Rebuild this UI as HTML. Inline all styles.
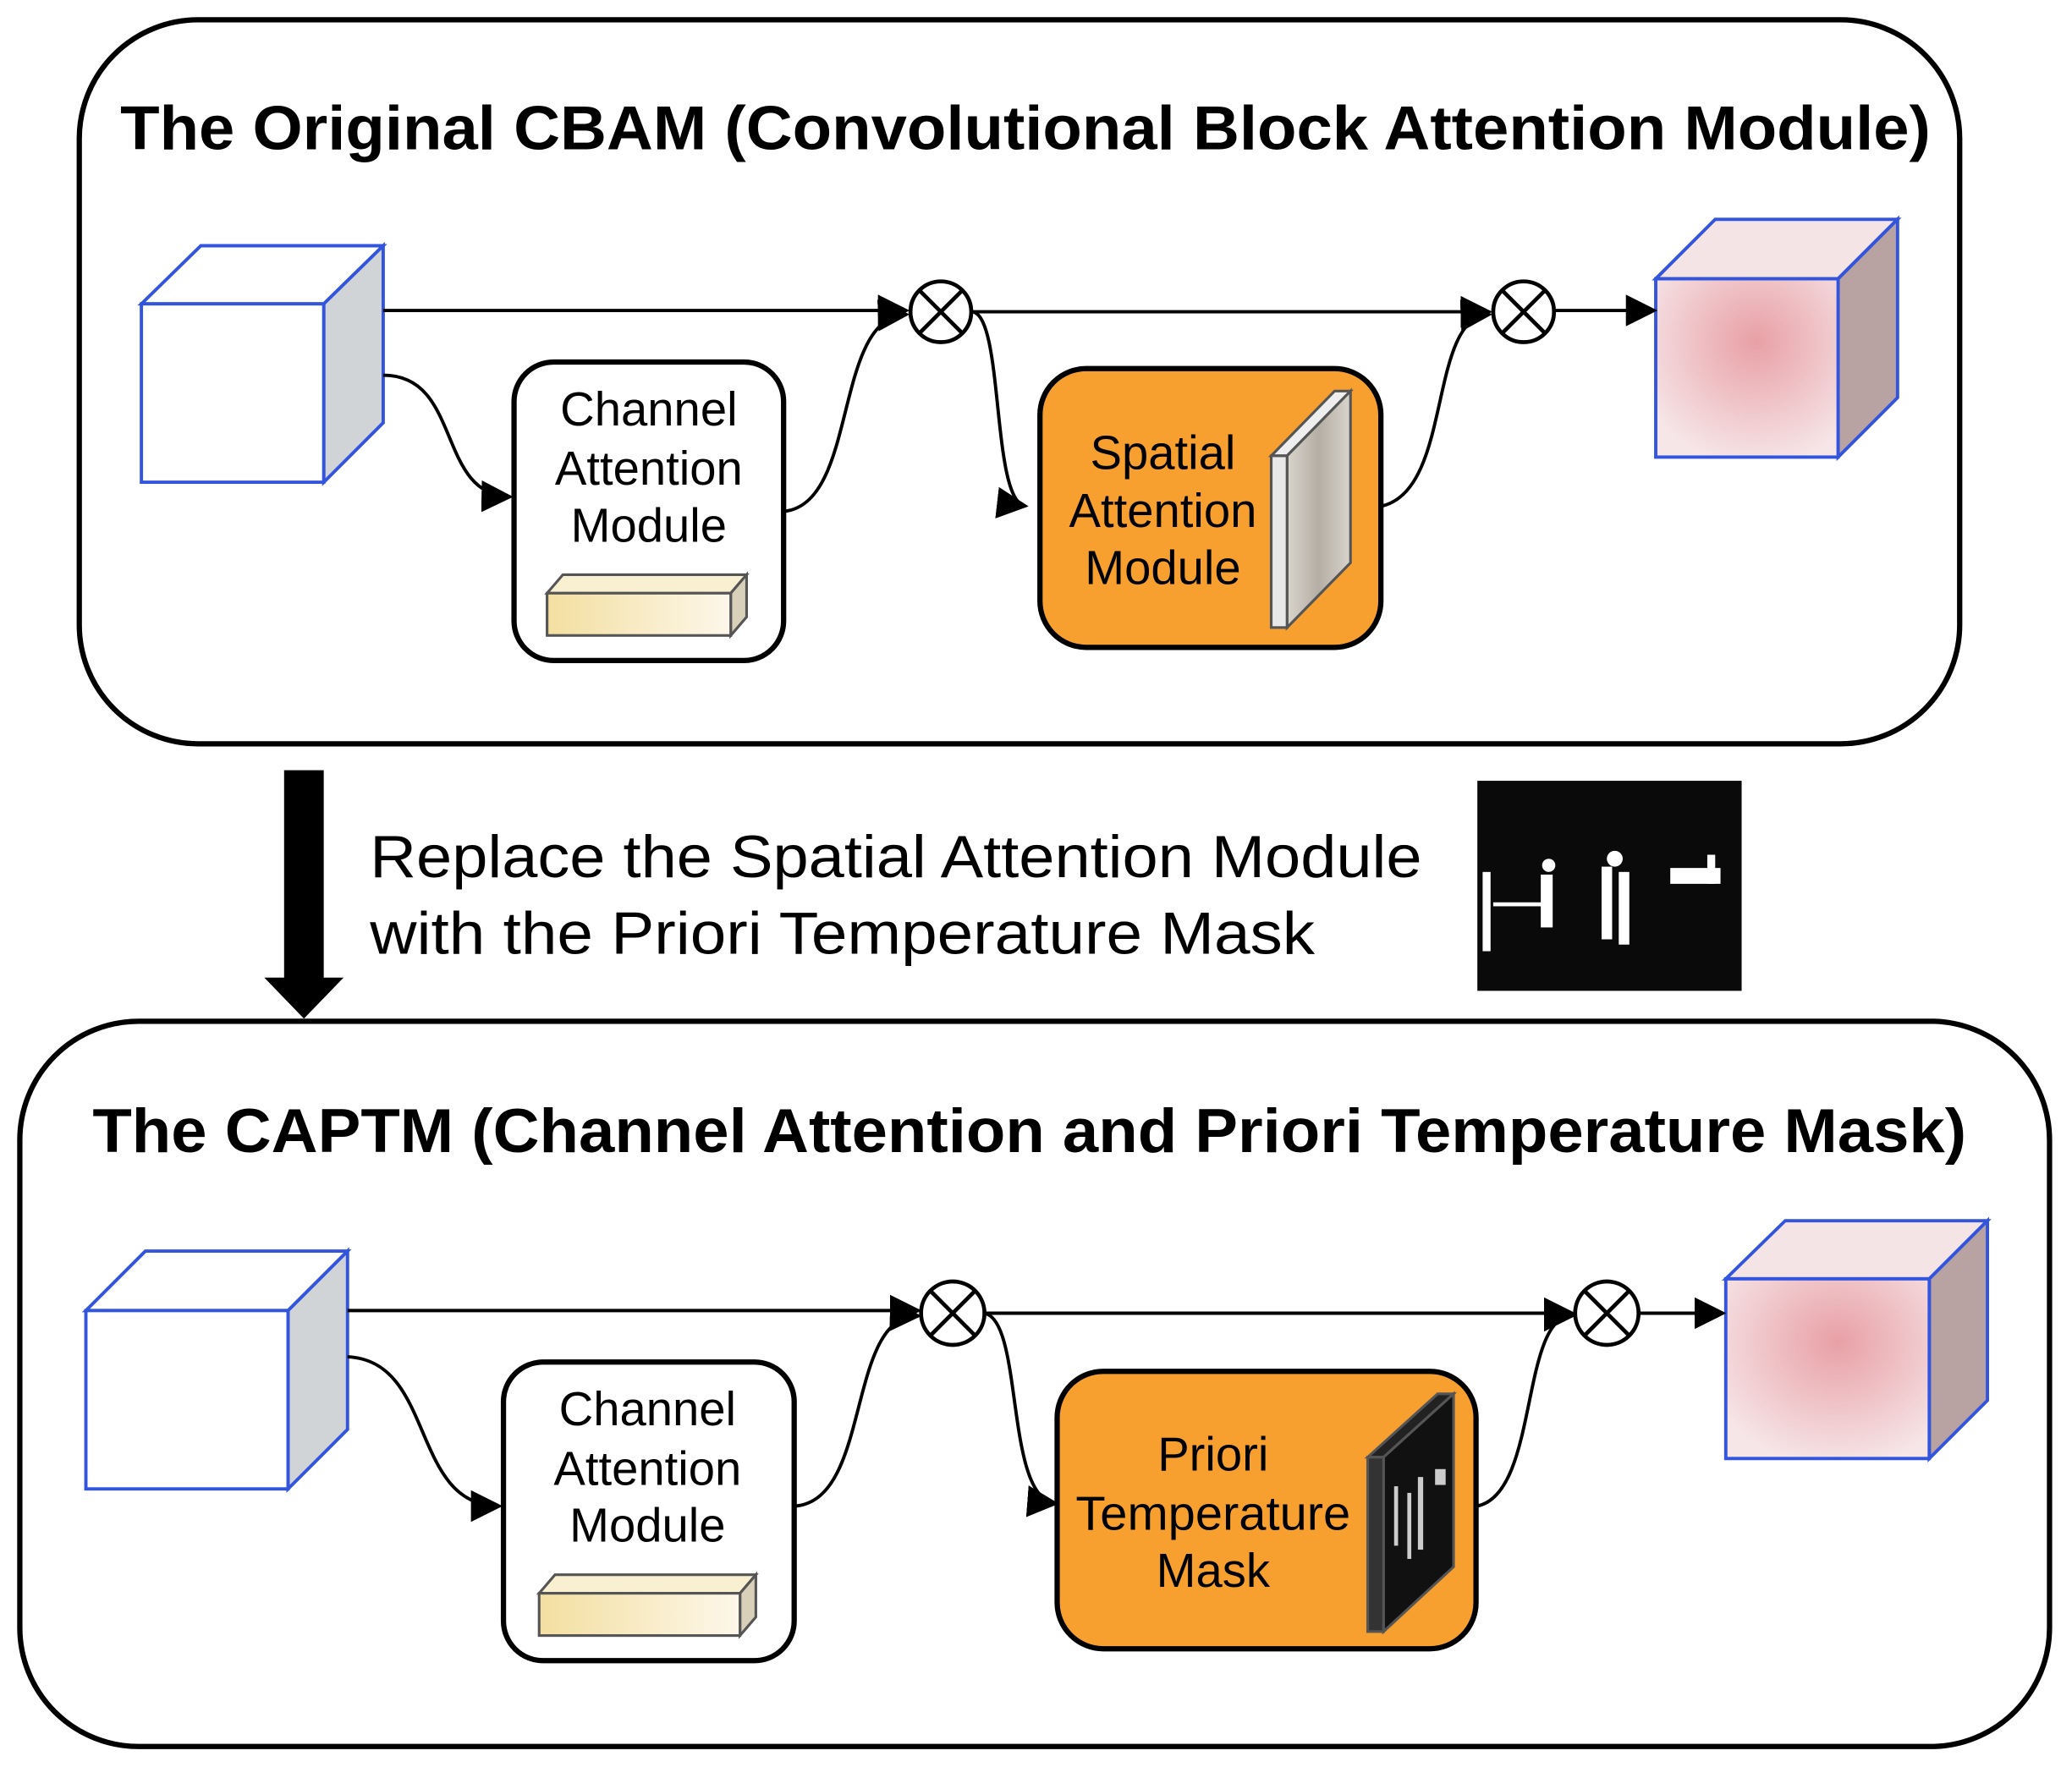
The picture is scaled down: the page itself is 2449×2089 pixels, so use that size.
<!DOCTYPE html>
<html><head><meta charset="utf-8"><style>html,body{margin:0;padding:0;background:#fff}svg{display:block}</style></head><body>
<svg width="2449" height="2089" viewBox="0 0 1568 1337.5" xmlns="http://www.w3.org/2000/svg" font-family="Liberation Sans, Arial, sans-serif">
<defs>
<marker id="a" viewBox="0 0 10 10" markerWidth="24" markerHeight="24" refX="9" refY="5" orient="auto" markerUnits="userSpaceOnUse"><path d="M0,0 L10,5 L0,10 z" fill="#000"/></marker>
<radialGradient id="pk" cx="0.55" cy="0.35" r="0.7"><stop offset="0" stop-color="#e8a0a6"/><stop offset="1" stop-color="#f6e6e8"/></radialGradient>
<linearGradient id="yb" x1="0" x2="1"><stop offset="0" stop-color="#f3dfa0"/><stop offset="1" stop-color="#fdf7ea"/></linearGradient>
<linearGradient id="gs" x1="0" x2="1"><stop offset="0" stop-color="#d8d4cc"/><stop offset="0.5" stop-color="#b5aea4"/><stop offset="1" stop-color="#d8d4cc"/></linearGradient>
</defs>
<rect x="60" y="15" width="1423" height="548" rx="90" fill="#fff" stroke="#000" stroke-width="4"/>
<text x="91" y="113" font-size="47" font-weight="bold" textLength="1370" lengthAdjust="spacingAndGlyphs">The Original CBAM (Convolutional Block Attention Module)</text>
<g stroke="#3355dd" stroke-width="2.5">
<polygon points="107,230 152,186 290,186 245,230" fill="#fff"/>
<polygon points="245,230 290,186 290,320 245,365" fill="#d0d4d6"/>
<rect x="107" y="230" width="138" height="135" fill="#fff"/>
<polygon points="1253,211 1298,166 1436,166 1391,211" fill="#f4e4e6"/>
<polygon points="1391,211 1436,166 1436,301 1391,346" fill="#b8a2a2"/>
<rect x="1253" y="211" width="138" height="135" fill="url(#pk)"/>
</g>
<g fill="none" stroke="#000" stroke-width="2.5">
<path d="M290,235 H686" marker-end="url(#a)"/>
<path d="M290,284 C350,284 330,375 386,376" marker-end="url(#a)"/>
<path d="M594,387 C650,380 630,240 686,238" marker-end="url(#a)"/>
<path d="M736,236 H1127" marker-end="url(#a)"/>
<path d="M736,236 C760,240 750,380 776,383" marker-end="url(#a)"/>
<path d="M1046,383 C1100,370 1080,240 1127,238" marker-end="url(#a)"/>
<path d="M1177,235 H1252" marker-end="url(#a)"/>
</g>
<g stroke="#000" stroke-width="3" fill="#fff">
<circle cx="712" cy="236" r="23"/><path d="M696,220 L728,252 M728,220 L696,252"/>
<circle cx="1153" cy="236" r="23"/><path d="M1137,220 L1169,252 M1169,220 L1137,252"/>
</g>
<rect x="389" y="274" width="204" height="226" rx="30" fill="#fff" stroke="#000" stroke-width="4"/>
<g font-size="36" text-anchor="middle"><text x="491" y="322">Channel</text><text x="491" y="367">Attention</text><text x="491" y="410">Module</text></g>
<g stroke="#555" stroke-width="2"><polygon points="414,449 426,435 565,435 553,449" fill="#f8f0d0"/><polygon points="553,449 565,435 565,467 553,481" fill="#d8d0b8"/><rect x="414" y="449" width="139" height="32" fill="url(#yb)"/></g>
<rect x="787" y="279" width="258" height="211" rx="35" fill="#f7a030" stroke="#000" stroke-width="4"/>
<g font-size="36" text-anchor="middle"><text x="880" y="355">Spatial</text><text x="880" y="399">Attention</text><text x="880" y="442">Module</text></g>
<g stroke="#555" stroke-width="2"><polygon points="962,345 1010,296 1022,296 974,345" fill="#eee"/><polygon points="974,345 1022,296 1022,426 974,475" fill="url(#gs)"/><rect x="962" y="345" width="12" height="130" fill="#e8e8e8"/></g>
<rect x="215" y="583" width="30" height="160" fill="#000"/><polygon points="200,740 260,740 230,771" fill="#000"/>
<g font-size="45"><text x="280" y="664" textLength="796" lengthAdjust="spacingAndGlyphs">Replace the Spatial Attention Module</text><text x="280" y="722" textLength="715" lengthAdjust="spacingAndGlyphs">with the Priori Temperature Mask</text></g>
<rect x="1118" y="591" width="200" height="159" fill="#0a0a0a"/>
<g fill="#fff"><rect x="1166" y="662" width="9" height="40"/><circle cx="1172" cy="655" r="5"/><rect x="1212" y="656" width="8" height="55"/><rect x="1225" y="660" width="8" height="55"/><circle cx="1222" cy="650" r="6"/><rect x="1122" y="660" width="6" height="60"/><rect x="1264" y="657" width="38" height="12"/><rect x="1292" y="647" width="6" height="22"/><rect x="1130" y="683" width="40" height="3"/></g>
<rect x="15" y="773" width="1536" height="549" rx="90" fill="#fff" stroke="#000" stroke-width="4"/>
<text x="70" y="872" font-size="47" font-weight="bold" textLength="1418" lengthAdjust="spacingAndGlyphs">The CAPTM (Channel Attention and Priori Temperature Mask)</text>
<g stroke="#3355dd" stroke-width="2.5">
<polygon points="65,992 110,947 263,947 218,992" fill="#fff"/>
<polygon points="218,992 263,947 263,1082 218,1127" fill="#d0d4d6"/>
<rect x="65" y="992" width="153" height="135" fill="#fff"/>
<polygon points="1306,968 1351,924 1504,924 1460,968" fill="#f4e4e6"/>
<polygon points="1460,968 1504,924 1504,1060 1460,1104" fill="#b8a2a2"/>
<rect x="1306" y="968" width="154" height="136" fill="url(#pk)"/>
</g>
<g fill="none" stroke="#000" stroke-width="2.5">
<path d="M263,992 H695" marker-end="url(#a)"/>
<path d="M263,1027 C330,1030 310,1140 378,1140" marker-end="url(#a)"/>
<path d="M602,1140 C660,1135 640,995 695,996" marker-end="url(#a)"/>
<path d="M745,994 H1190" marker-end="url(#a)"/>
<path d="M745,994 C775,1000 760,1135 799,1138" marker-end="url(#a)"/>
<path d="M1118,1140 C1165,1130 1150,996 1190,996" marker-end="url(#a)"/>
<path d="M1240,994 H1304" marker-end="url(#a)"/>
</g>
<g stroke="#000" stroke-width="3" fill="#fff">
<circle cx="721" cy="994" r="24"/><path d="M704,977 L738,1011 M738,977 L704,1011"/>
<circle cx="1216" cy="994" r="24"/><path d="M1199,977 L1233,1011 M1233,977 L1199,1011"/>
</g>
<rect x="381" y="1031" width="220" height="226" rx="30" fill="#fff" stroke="#000" stroke-width="4"/>
<g font-size="36" text-anchor="middle"><text x="490" y="1079">Channel</text><text x="490" y="1124">Attention</text><text x="490" y="1167">Module</text></g>
<g stroke="#555" stroke-width="2"><polygon points="408,1206 420,1192 572,1192 560,1206" fill="#f8f0d0"/><polygon points="560,1206 572,1192 572,1224 560,1238" fill="#d8d0b8"/><rect x="408" y="1206" width="152" height="32" fill="url(#yb)"/></g>
<rect x="800" y="1038" width="317" height="210" rx="35" fill="#f7a030" stroke="#000" stroke-width="4"/>
<g font-size="36" text-anchor="middle"><text x="918" y="1113">Priori</text><text x="918" y="1158" textLength="208" lengthAdjust="spacingAndGlyphs">Temperature</text><text x="918" y="1201">Mask</text></g>
<g stroke="#555" stroke-width="2"><polygon points="1035,1103 1088,1055 1100,1055 1047,1103" fill="#222"/><polygon points="1047,1103 1100,1055 1100,1186 1047,1235" fill="#111"/><rect x="1035" y="1103" width="12" height="132" fill="#333"/></g>
<g fill="#ccc"><rect x="1055" y="1125" width="3" height="45"/><rect x="1065" y="1130" width="3" height="50"/><rect x="1073" y="1118" width="4" height="55"/><rect x="1086" y="1112" width="8" height="12"/></g>
</svg>
</body></html>
